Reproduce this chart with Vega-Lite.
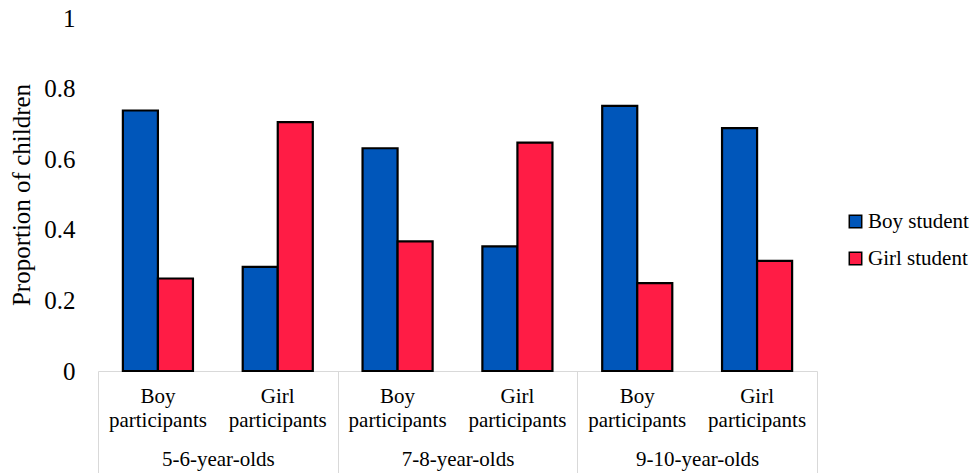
{
  "$schema": "https://vega.github.io/schema/vega-lite/v6.json",
  "width": 719,
  "height": 353,
  "autosize": {"type": "none"},
  "padding": {"left": 98, "top": 18, "right": 153, "bottom": 102},
  "config": {
    "view": {"stroke": null},
    "font": "Liberation Serif",
    "axis": {"labelColor": "black", "titleColor": "black", "labelFont": "Liberation Serif", "titleFont": "Liberation Serif"},
    "legend": {"labelFont": "Liberation Serif", "labelColor": "black"}
  },
  "data": {
    "values": [
      {"cell": "5-6-year-olds|Boy participants", "age": "5-6-year-olds", "participant": "Boy participants", "student": "Boy student", "value": 0.738},
      {"cell": "5-6-year-olds|Boy participants", "age": "5-6-year-olds", "participant": "Boy participants", "student": "Girl student", "value": 0.262},
      {"cell": "5-6-year-olds|Girl participants", "age": "5-6-year-olds", "participant": "Girl participants", "student": "Boy student", "value": 0.295},
      {"cell": "5-6-year-olds|Girl participants", "age": "5-6-year-olds", "participant": "Girl participants", "student": "Girl student", "value": 0.705},
      {"cell": "7-8-year-olds|Boy participants", "age": "7-8-year-olds", "participant": "Boy participants", "student": "Boy student", "value": 0.631},
      {"cell": "7-8-year-olds|Boy participants", "age": "7-8-year-olds", "participant": "Boy participants", "student": "Girl student", "value": 0.367},
      {"cell": "7-8-year-olds|Girl participants", "age": "7-8-year-olds", "participant": "Girl participants", "student": "Boy student", "value": 0.353},
      {"cell": "7-8-year-olds|Girl participants", "age": "7-8-year-olds", "participant": "Girl participants", "student": "Girl student", "value": 0.647},
      {"cell": "9-10-year-olds|Boy participants", "age": "9-10-year-olds", "participant": "Boy participants", "student": "Boy student", "value": 0.751},
      {"cell": "9-10-year-olds|Boy participants", "age": "9-10-year-olds", "participant": "Boy participants", "student": "Girl student", "value": 0.249},
      {"cell": "9-10-year-olds|Girl participants", "age": "9-10-year-olds", "participant": "Girl participants", "student": "Boy student", "value": 0.688},
      {"cell": "9-10-year-olds|Girl participants", "age": "9-10-year-olds", "participant": "Girl participants", "student": "Girl student", "value": 0.312}
    ]
  },
  "layer": [
    {
      "mark": {"type": "bar", "stroke": "black", "strokeWidth": 2.2},
      "encoding": {
        "x": {
          "field": "cell",
          "type": "nominal",
          "sort": null,
          "scale": {"paddingInner": 0, "paddingOuter": 0},
          "axis": {
            "title": null,
            "orient": "bottom",
            "labelExpr": "split(split(datum.label, '|')[1], ' ')",
            "labelAngle": 0,
            "ticks": false,
            "domainColor": "#d9d9d9",
            "domainWidth": 1,
            "labelFontSize": 21,
            "labelPadding": 14,
            "labelLineHeight": 24,
            "labelBaseline": "top",
            "labelLimit": 200
          }
        },
        "xOffset": {
          "field": "student",
          "type": "nominal",
          "sort": ["Boy student", "Girl student"],
          "scale": {"paddingInner": 0, "paddingOuter": 0.71}
        },
        "y": {
          "field": "value",
          "type": "quantitative",
          "scale": {"domain": [0, 1]},
          "axis": {
            "title": "Proportion of children",
            "values": [0, 0.2, 0.4, 0.6, 0.8, 1],
            "format": "~g",
            "grid": false,
            "domain": false,
            "ticks": false,
            "labelFontSize": 25,
            "labelPadding": 23,
            "titleFontSize": 25,
            "titleFontWeight": "normal",
            "titlePadding": 9
          }
        },
        "color": {
          "field": "student",
          "type": "nominal",
          "scale": {"domain": ["Boy student", "Girl student"], "range": ["#0056BA", "#FF1C45"]},
          "legend": {
            "title": null,
            "orient": "none",
            "legendX": 747,
            "legendY": 193,
            "symbolType": "square",
            "symbolSize": 155,
            "symbolStrokeColor": "black",
            "symbolStrokeWidth": 1.5,
            "symbolOpacity": 1,
            "labelFontSize": 21,
            "labelOffset": 2,
            "rowPadding": 15
          }
        }
      }
    },
    {
      "mark": {"type": "bar", "opacity": 0},
      "encoding": {
        "x": {
          "field": "age",
          "type": "nominal",
          "sort": null,
          "scale": {"paddingInner": 0, "paddingOuter": 0},
          "axis": {
            "title": null,
            "orient": "bottom",
            "labelAngle": 0,
            "domain": false,
            "tickBand": "extent",
            "tickSize": 102,
            "tickColor": "#d9d9d9",
            "tickWidth": 1,
            "labelPadding": -25,
            "labelFontSize": 21,
            "labelBaseline": "top"
          }
        }
      }
    }
  ],
  "resolve": {"scale": {"x": "independent"}, "axis": {"x": "independent"}}
}
